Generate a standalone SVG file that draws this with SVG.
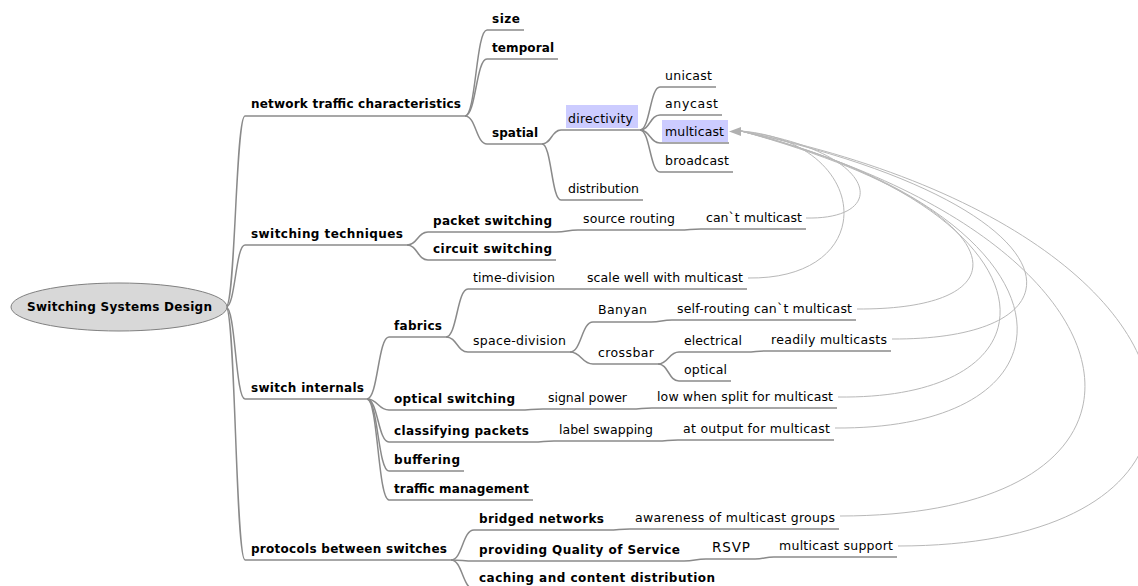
<svg xmlns="http://www.w3.org/2000/svg" width="1138" height="586" viewBox="0 0 1138 586">
<style>
.e{fill:none;stroke:#8a8a8a;stroke-width:1.5}
.u{stroke:#8a8a8a;stroke-width:1.5}
.l{fill:none;stroke:#b8b8b8;stroke-width:1}
.t{font-family:"DejaVu Sans","Liberation Sans",sans-serif;font-size:12.5px;fill:#000}
.b{font-weight:bold;font-size:12px}
.hl{fill:#ccccff}
</style>
<rect width="1138" height="586" fill="#ffffff"/>
<g id="connectors">
<path class="e" d="M226,307 C235.5,307 235.5,116 245,116"/>
<path class="e" d="M226,307 C235.5,307 235.5,245 245,245"/>
<path class="e" d="M226,307 C235.5,307 235.5,399 245,399"/>
<path class="e" d="M226,307 C235.5,307 235.5,560 245,560"/>
<path class="e" d="M465,116 C476,116 476,30 487,30"/>
<path class="e" d="M465,116 C476,116 476,59 487,59"/>
<path class="e" d="M465,116 C476,116 476,144 487,144"/>
<path class="e" d="M542,144 C551.5,144 551.5,130 561,130"/>
<path class="e" d="M542,144 C551.5,144 551.5,200 561,200"/>
<path class="e" d="M640,130 C650,130 650,87 660,87"/>
<path class="e" d="M640,130 C650,130 650,115 660,115"/>
<path class="e" d="M640,130 C650,130 650,143 660,143"/>
<path class="e" d="M640,130 C650,130 650,172 660,172"/>
<path class="e" d="M407,245 C417.5,245 417.5,232 428,232"/>
<path class="e" d="M407,245 C417.5,245 417.5,260 428,260"/>
<path class="e" d="M556,232 C567,232 567,230 578,230"/>
<path class="e" d="M679,230 C690,230 690,229 701,229"/>
<path class="e" d="M367,399 C378,399 378,337 389,337"/>
<path class="e" d="M367,399 C378,399 378,410 389,410"/>
<path class="e" d="M367,399 C378,399 378,442 389,442"/>
<path class="e" d="M367,399 C378,399 378,471 389,471"/>
<path class="e" d="M367,399 C378,399 378,500 389,500"/>
<path class="e" d="M446,337 C457,337 457,289 468,289"/>
<path class="e" d="M446,337 C457,337 457,352 468,352"/>
<path class="e" d="M560,289 L582,289"/>
<path class="e" d="M570,352 C581.5,352 581.5,322 593,322"/>
<path class="e" d="M570,352 C581.5,352 581.5,364 593,364"/>
<path class="e" d="M651,322 C661.5,322 661.5,320 672,320"/>
<path class="e" d="M658,364 C668.5,364 668.5,352 679,352"/>
<path class="e" d="M658,364 C668.5,364 668.5,381 679,381"/>
<path class="e" d="M746,352 C756,352 756,351 766,351"/>
<path class="e" d="M519,410 C531,410 531,409 543,409"/>
<path class="e" d="M631,409 C641.5,409 641.5,408 652,408"/>
<path class="e" d="M533,442 C543.5,442 543.5,441 554,441"/>
<path class="e" d="M657,441 C667.5,441 667.5,440 678,440"/>
<path class="e" d="M451,560 C462.5,560 462.5,530 474,530"/>
<path class="e" d="M451,560 C462.5,560 462.5,561 474,561"/>
<path class="e" d="M451,560 C462.5,560 462.5,589 474,589"/>
<path class="e" d="M608,530 C619,530 619,529 630,529"/>
<path class="e" d="M684,561 C695,561 695,559 706,559"/>
<path class="e" d="M755,559 C764.5,559 764.5,557 774,557"/>
<path class="l" d="M806,218 C893,220 878,150 741,131"/>
<path class="l" d="M748,278 C882,280 872,142 741,131"/>
<path class="l" d="M857,309 C1040,310 1010,205 741,131"/>
<path class="l" d="M892,339 C1100,340 1080,205 741,131"/>
<path class="l" d="M838,397 C1075,400 1060,210 741,131"/>
<path class="l" d="M835,428 C1100,430 1082,215 741,131"/>
<path class="l" d="M840,516 C1200,516 1160,240 741,131"/>
<path class="l" d="M898,546 C1280,546 1230,230 741,131"/>
<polygon points="729,131.5 741,127 741,136" fill="#b0b0b0"/>
</g>
<g id="root"><ellipse cx="119" cy="307" rx="108" ry="24" fill="#d8d8d8" stroke="#808080" stroke-width="1"/><text class="t b" x="27" y="311" textLength="185" lengthAdjust="spacing">Switching Systems Design</text></g>
<g id="n-network"><line class="u" x1="245" y1="116" x2="465" y2="116"/><text class="t b" x="251" y="108" textLength="210" lengthAdjust="spacing">network traffic characteristics</text></g>
<g id="n-size"><line class="u" x1="487" y1="30" x2="524" y2="30"/><text class="t b" x="492" y="23" textLength="28" lengthAdjust="spacing">size</text></g>
<g id="n-temporal"><line class="u" x1="487" y1="59" x2="558" y2="59"/><text class="t b" x="492" y="52" textLength="62" lengthAdjust="spacing">temporal</text></g>
<g id="n-spatial"><line class="u" x1="487" y1="144" x2="542" y2="144"/><text class="t b" x="492" y="137" textLength="46" lengthAdjust="spacing">spatial</text></g>
<g id="n-directivity"><rect class="hl" x="566" y="105" width="72" height="23"/><line class="u" x1="561" y1="130" x2="640" y2="130"/><text class="t" x="568" y="123" textLength="65" lengthAdjust="spacing">directivity</text></g>
<g id="n-distribution"><line class="u" x1="561" y1="200" x2="643" y2="200"/><text class="t" x="568" y="193" textLength="71" lengthAdjust="spacing">distribution</text></g>
<g id="n-unicast"><line class="u" x1="660" y1="87" x2="716" y2="87"/><text class="t" x="665" y="80" textLength="47" lengthAdjust="spacing">unicast</text></g>
<g id="n-anycast"><line class="u" x1="660" y1="115" x2="722" y2="115"/><text class="t" x="665" y="108" textLength="53" lengthAdjust="spacing">anycast</text></g>
<g id="n-multicast"><rect class="hl" x="662" y="120" width="66" height="22"/><line class="u" x1="660" y1="143" x2="729" y2="143"/><text class="t" x="665" y="136" textLength="59" lengthAdjust="spacing">multicast</text></g>
<g id="n-broadcast"><line class="u" x1="660" y1="172" x2="733" y2="172"/><text class="t" x="665" y="165" textLength="64" lengthAdjust="spacing">broadcast</text></g>
<g id="n-switching"><line class="u" x1="245" y1="245" x2="407" y2="245"/><text class="t b" x="251" y="238" textLength="152" lengthAdjust="spacing">switching techniques</text></g>
<g id="n-packet"><line class="u" x1="428" y1="232" x2="556" y2="232"/><text class="t b" x="433" y="225" textLength="119" lengthAdjust="spacing">packet switching</text></g>
<g id="n-circuit"><line class="u" x1="428" y1="260" x2="556" y2="260"/><text class="t b" x="433" y="253" textLength="119" lengthAdjust="spacing">circuit switching</text></g>
<g id="n-source"><line class="u" x1="578" y1="230" x2="679" y2="230"/><text class="t" x="583" y="223" textLength="92" lengthAdjust="spacing">source routing</text></g>
<g id="n-cant"><line class="u" x1="701" y1="229" x2="806" y2="229"/><text class="t" x="706" y="222" textLength="96" lengthAdjust="spacing">can`t multicast</text></g>
<g id="n-internals"><line class="u" x1="245" y1="399" x2="367" y2="399"/><text class="t b" x="251" y="392" textLength="113" lengthAdjust="spacing">switch internals</text></g>
<g id="n-fabrics"><line class="u" x1="389" y1="337" x2="446" y2="337"/><text class="t b" x="394" y="330" textLength="48" lengthAdjust="spacing">fabrics</text></g>
<g id="n-time"><line class="u" x1="468" y1="289" x2="560" y2="289"/><text class="t" x="473" y="282" textLength="82" lengthAdjust="spacing">time-division</text></g>
<g id="n-scale"><line class="u" x1="582" y1="289" x2="747" y2="289"/><text class="t" x="587" y="282" textLength="156" lengthAdjust="spacing">scale well with multicast</text></g>
<g id="n-space"><line class="u" x1="468" y1="352" x2="570" y2="352"/><text class="t" x="473" y="345" textLength="93" lengthAdjust="spacing">space-division</text></g>
<g id="n-banyan"><line class="u" x1="593" y1="322" x2="651" y2="322"/><text class="t" x="598" y="314" textLength="49" lengthAdjust="spacing">Banyan</text></g>
<g id="n-selfrouting"><line class="u" x1="672" y1="320" x2="856" y2="320"/><text class="t" x="677" y="313" textLength="175" lengthAdjust="spacing">self-routing can`t multicast</text></g>
<g id="n-crossbar"><line class="u" x1="593" y1="364" x2="658" y2="364"/><text class="t" x="598" y="357" textLength="56" lengthAdjust="spacing">crossbar</text></g>
<g id="n-electrical"><line class="u" x1="679" y1="352" x2="746" y2="352"/><text class="t" x="684" y="345" textLength="58" lengthAdjust="spacing">electrical</text></g>
<g id="n-readily"><line class="u" x1="766" y1="351" x2="891" y2="351"/><text class="t" x="771" y="344" textLength="116" lengthAdjust="spacing">readily multicasts</text></g>
<g id="n-optical"><line class="u" x1="679" y1="381" x2="731" y2="381"/><text class="t" x="684" y="374" textLength="43" lengthAdjust="spacing">optical</text></g>
<g id="n-optsw"><line class="u" x1="389" y1="410" x2="519" y2="410"/><text class="t b" x="394" y="403" textLength="121" lengthAdjust="spacing">optical switching</text></g>
<g id="n-signal"><line class="u" x1="543" y1="409" x2="631" y2="409"/><text class="t" x="548" y="402" textLength="79" lengthAdjust="spacing">signal power</text></g>
<g id="n-low"><line class="u" x1="652" y1="408" x2="837" y2="408"/><text class="t" x="657" y="401" textLength="176" lengthAdjust="spacing">low when split for multicast</text></g>
<g id="n-classify"><line class="u" x1="389" y1="442" x2="533" y2="442"/><text class="t b" x="394" y="435" textLength="135" lengthAdjust="spacing">classifying packets</text></g>
<g id="n-label"><line class="u" x1="554" y1="441" x2="657" y2="441"/><text class="t" x="559" y="434" textLength="94" lengthAdjust="spacing">label swapping</text></g>
<g id="n-output"><line class="u" x1="678" y1="440" x2="834" y2="440"/><text class="t" x="683" y="433" textLength="147" lengthAdjust="spacing">at output for multicast</text></g>
<g id="n-buffering"><line class="u" x1="389" y1="471" x2="464" y2="471"/><text class="t b" x="394" y="464" textLength="66" lengthAdjust="spacing">buffering</text></g>
<g id="n-traffic"><line class="u" x1="389" y1="500" x2="533" y2="500"/><text class="t b" x="394" y="493" textLength="135" lengthAdjust="spacing">traffic management</text></g>
<g id="n-protocols"><line class="u" x1="245" y1="560" x2="451" y2="560"/><text class="t b" x="251" y="553" textLength="196" lengthAdjust="spacing">protocols between switches</text></g>
<g id="n-bridged"><line class="u" x1="474" y1="530" x2="608" y2="530"/><text class="t b" x="479" y="523" textLength="125" lengthAdjust="spacing">bridged networks</text></g>
<g id="n-awareness"><line class="u" x1="630" y1="529" x2="839" y2="529"/><text class="t" x="635" y="522" textLength="200" lengthAdjust="spacing">awareness of multicast groups</text></g>
<g id="n-qos"><line class="u" x1="474" y1="561" x2="684" y2="561"/><text class="t b" x="479" y="554" textLength="201" lengthAdjust="spacing">providing Quality of Service</text></g>
<g id="n-rsvp"><line class="u" x1="706" y1="559" x2="755" y2="559"/><text class="t" x="712" y="552" style="font-size:13.5px" textLength="38" lengthAdjust="spacing">RSVP</text></g>
<g id="n-support"><line class="u" x1="774" y1="557" x2="897" y2="557"/><text class="t" x="779" y="550" textLength="114" lengthAdjust="spacing">multicast support</text></g>
<g id="n-caching"><line class="u" x1="474" y1="589" x2="719" y2="589"/><text class="t b" x="479" y="582" textLength="236" lengthAdjust="spacing">caching and content distribution</text></g>
</svg>
